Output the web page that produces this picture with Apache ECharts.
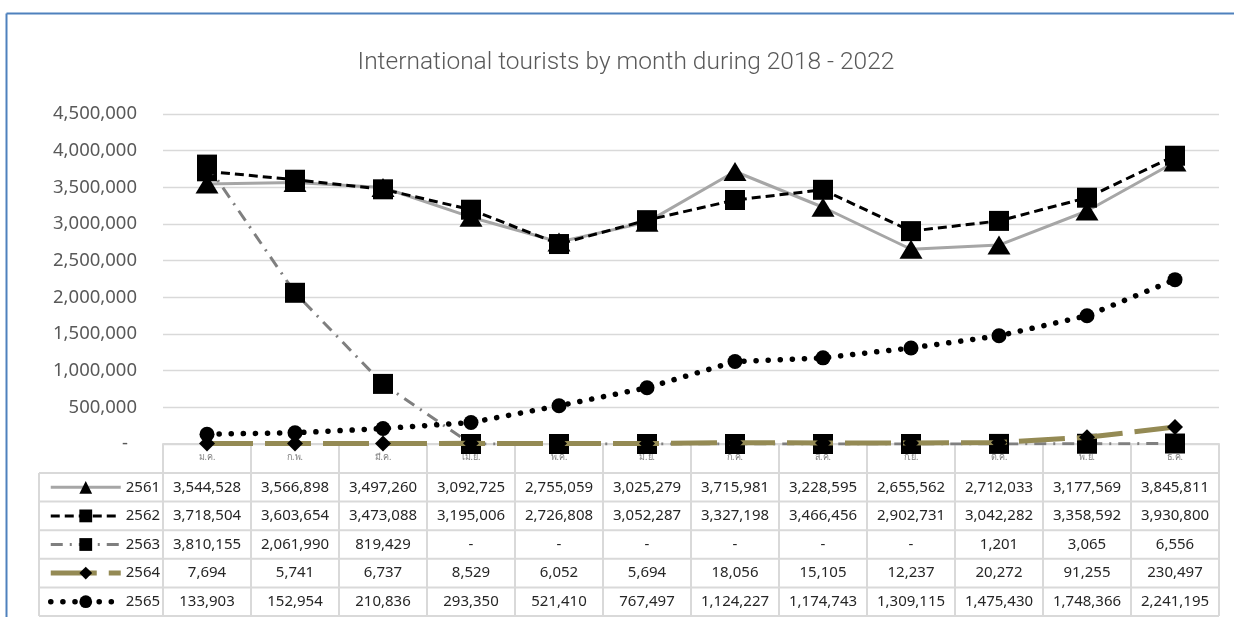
<!DOCTYPE html>
<html>
<head>
<meta charset="utf-8">
<title>International tourists by month during 2018 - 2022</title>
<script src="https://cdn.jsdelivr.net/npm/echarts@6/dist/echarts.min.js"></script>
<style>
  html, body { margin: 0; padding: 0; background: #ffffff; overflow: hidden; }
  #chart { width: 1234px; height: 617px; }
</style>
</head>
<body>
<div id="chart"></div>
<script>
// Thai month abbreviations (Jan..Dec) and Buddhist-era years
const months = ['ม.ค.', 'ก.พ.', 'มี.ค.', 'เม.ย.', 'พ.ค.', 'มิ.ย.', 'ก.ค.', 'ส.ค.', 'ก.ย.', 'ต.ค.', 'พ.ย.', 'ธ.ค.'];
const years = ['2561', '2562', '2563', '2564', '2565'];

// Monthly international arrivals per year
const arrivals2561 = [3544528, 3566898, 3497260, 3092725, 2755059, 3025279, 3715981, 3228595, 2655562, 2712033, 3177569, 3845811];
const arrivals2562 = [3718504, 3603654, 3473088, 3195006, 2726808, 3052287, 3327198, 3466456, 2902731, 3042282, 3358592, 3930800];
const arrivals2563 = [3810155, 2061990, 819429, 0, 0, 0, 0, 0, 0, 1201, 3065, 6556];
const arrivals2564 = [7694, 5741, 6737, 8529, 6052, 5694, 18056, 15105, 12237, 20272, 91255, 230497];
const arrivals2565 = [133903, 152954, 210836, 293350, 521410, 767497, 1124227, 1174743, 1309115, 1475430, 1748366, 2241195];

// Value axis range and step
const yMin = 0;
const yMax = 4500000;
const yStep = 500000;

const title = 'International tourists by month during 2018 - 2022';

const seriesData = [arrivals2561, arrivals2562, arrivals2563, arrivals2564, arrivals2565];

// Line / marker styling per year
const looks = [
  { color: '#a6a6a6', width: 3,   dash: 'solid',        cap: 'butt',  symbol: 'triangle', size: [23, 19] },
  { color: '#000000', width: 3,   dash: [9, 5],         cap: 'butt',  symbol: 'rect',     size: [20, 20] },
  { color: '#7f7f7f', width: 3,   dash: [12, 7, 2, 7],  cap: 'butt',  symbol: 'rect',     size: [20, 20] },
  { color: '#948a54', width: 5,   dash: [46, 12],       cap: 'butt',  symbol: 'diamond',  size: [16, 16] },
  { color: '#000000', width: 5.5, dash: [0.1, 12],      cap: 'round', symbol: 'circle',   size: 15 }
];

const fmt = v => (v === 0 ? '-' : v.toLocaleString('en-US'));

const chart = echarts.init(document.getElementById('chart'), null, { renderer: 'canvas' });

chart.setOption({
  animation: false,
  backgroundColor: '#ffffff',
  title: {
    text: title,
    left: 621,
    top: 45,
    textAlign: 'center',
    textStyle: { fontFamily: 'Roboto', fontWeight: 300, fontSize: 24.5, color: '#595959' }
  },
  grid: { left: 163, right: 15, top: 114, bottom: 173, containLabel: false },
  xAxis: {
    type: 'category',
    data: months,
    boundaryGap: true,
    axisLine: { show: true, lineStyle: { color: '#d9d9d9', width: 2 } },
    axisTick: { show: false },
    axisLabel: {
      margin: 9,
      fontSize: 9,
      color: '#7f7f7f',
      fontFamily: 'Noto Sans, DejaVu Sans, sans-serif'
    },
    splitLine: { show: false }
  },
  yAxis: {
    type: 'value',
    min: yMin,
    max: yMax,
    interval: yStep,
    axisLine: { show: false },
    axisTick: { show: false },
    splitLine: { show: true, lineStyle: { color: '#d9d9d9', width: 1.3 } },
    axisLabel: {
      margin: 26,
      fontSize: 18.5,
      color: '#595959',
      fontFamily: 'Noto Sans',
      formatter: v => (v === 0 ? '{z|-}' : v.toLocaleString('en-US')),
      rich: { z: { fontSize: 18.5, color: '#595959', fontFamily: 'Noto Sans', padding: [0, 9, 0, 0] } }
    }
  },
  series: years.map((y, i) => ({
    name: y,
    type: 'line',
    data: seriesData[i],
    symbol: looks[i].symbol,
    symbolSize: looks[i].size,
    showSymbol: true,
    itemStyle: { color: '#000000', borderWidth: 0 },
    lineStyle: { color: looks[i].color, width: looks[i].width, type: looks[i].dash, cap: looks[i].cap },
    emphasis: { disabled: true },
    z: 3 + i
  }))
});

// Data table under the plot, laid out from the category axis positions
function drawTable() {
  const n = months.length;
  const c0 = chart.convertToPixel({ xAxisIndex: 0 }, 0);
  const c1 = chart.convertToPixel({ xAxisIndex: 0 }, 1);
  const cw = c1 - c0;
  const left = c0 - cw / 2;
  const right = left + cw * n;
  const top = chart.convertToPixel({ yAxisIndex: 0 }, 0);
  const headH = 29;
  const rowH = 28.6;
  const keyLeft = 39;
  const bottom = top + headH + rowH * years.length;
  const border = { stroke: '#d9d9d9', lineWidth: 2 };
  const els = [];

  // horizontal rules
  for (let r = 0; r <= years.length; r++) {
    const y = top + headH + rowH * r;
    els.push({ type: 'line', silent: true, z: 1, shape: { x1: keyLeft, y1: y, x2: right, y2: y }, style: border });
  }
  // vertical rules
  els.push({ type: 'line', silent: true, z: 1, shape: { x1: keyLeft, y1: top + headH, x2: keyLeft, y2: bottom }, style: border });
  for (let k = 0; k <= n; k++) {
    const x = left + cw * k;
    els.push({ type: 'line', silent: true, z: 1, shape: { x1: x, y1: top, x2: x, y2: bottom }, style: border });
  }
  // cell values
  years.forEach((y, r) => {
    const cy = top + headH + rowH * (r + 0.5);
    seriesData[r].forEach((v, k) => {
      els.push({
        type: 'text', silent: true, z: 1,
        x: chart.convertToPixel({ xAxisIndex: 0 }, k),
        y: cy,
        style: {
          text: fmt(v),
          fill: '#262626',
          fontSize: 15,
          fontFamily: 'Noto Sans',
          align: 'center',
          verticalAlign: 'middle'
        }
      });
    });
  });

  const frame = { stroke: '#4f81bd', lineWidth: 2 };
  const itemH = 16;
  chart.setOption({
    graphic: [
      // outer frame (left and top edges)
      { type: 'line', silent: true, z: 0, shape: { x1: 6.5, y1: 13.5, x2: 1240, y2: 13.5 }, style: frame },
      { type: 'line', silent: true, z: 0, shape: { x1: 6.5, y1: 13.5, x2: 6.5, y2: 640 }, style: frame },
      ...els
    ],
    legend: {
      show: true,
      orient: 'vertical',
      left: 48,
      top: top + headH + (rowH - itemH) / 2,
      padding: 0,
      height: 200,
      itemWidth: 70,
      itemHeight: itemH,
      itemGap: rowH - itemH,
      selectedMode: false,
      textStyle: { fontSize: 15, color: '#262626', fontFamily: 'Noto Sans', lineHeight: itemH },
      data: years.map((y, i) => ({
        name: y,
        lineStyle: { width: looks[i].width, type: looks[i].dash, color: looks[i].color, cap: looks[i].cap },
        itemStyle: { color: '#000000' }
      }))
    }
  });
}

drawTable();
</script>
</body>
</html>
